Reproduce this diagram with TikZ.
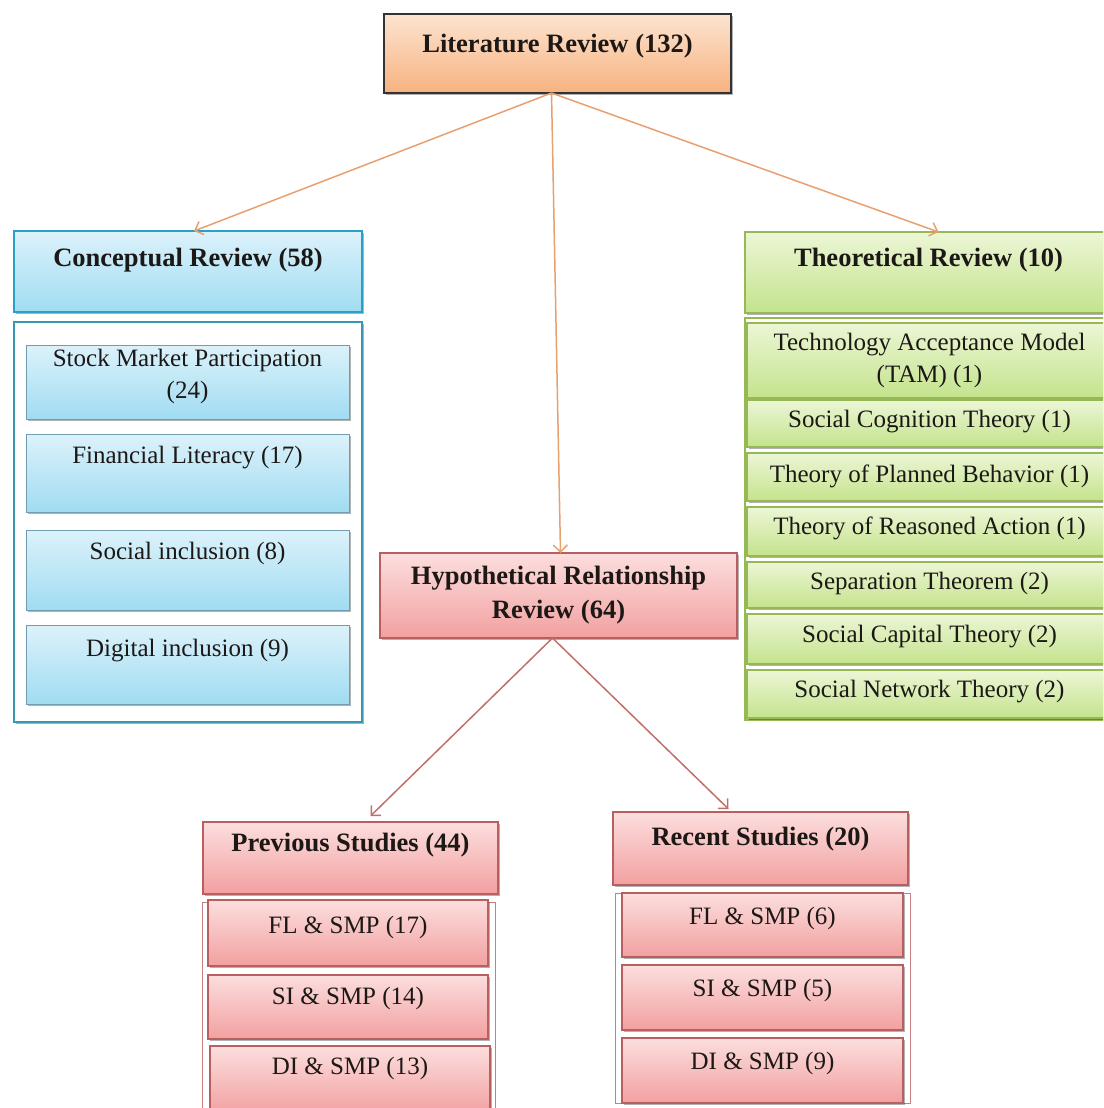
\documentclass[tikz,border=0pt]{standalone}
\usepackage{fontspec}
\setmainfont{Liberation Serif}
\usetikzlibrary{arrows.meta,shadows,calc}

\definecolor{orT}{RGB}{253,228,208}
\definecolor{orB}{RGB}{246,178,128}
\definecolor{blT}{RGB}{220,242,251}
\definecolor{blB}{RGB}{160,220,242}
\definecolor{grT}{RGB}{236,246,214}
\definecolor{grB}{RGB}{196,227,140}
\definecolor{pkT}{RGB}{252,222,222}
\definecolor{pkB}{RGB}{242,160,160}
\definecolor{blLine}{RGB}{42,160,198}
\definecolor{blLine2}{RGB}{55,150,176}
\definecolor{blSub}{RGB}{112,158,176}
\definecolor{grLine}{RGB}{150,185,85}
\definecolor{pkLine}{RGB}{184,96,96}
\definecolor{arrA}{RGB}{232,160,112}
\definecolor{arrB}{RGB}{192,112,106}
\definecolor{ink}{RGB}{28,24,22}

\tikzset{
  box/.style={rectangle, inner sep=0pt, outer sep=0pt,
    drop shadow={shadow xshift=1.5pt, shadow yshift=-2pt, opacity=0.3, fill=black}},
  litbox/.style={box, draw=black!80, line width=1.5pt, top color=orT, bottom color=orB},
  bluehead/.style={box, draw=blLine, line width=2.5pt, top color=blT, bottom color=blB},
  bluecont/.style={box, draw=blLine2, line width=2pt, fill=white},
  bluesub/.style={box, draw=blSub, line width=1pt, top color=blT, bottom color=blB},
  greenhead/.style={box, draw=grLine, line width=1.5pt, top color=grT, bottom color=grB},
  greencont/.style={rectangle, inner sep=0pt, draw=grLine, line width=1.5pt, fill=white},
  greensub/.style={box, draw=grLine, line width=1.2pt, top color=grT, bottom color=grB},
  pinkhead/.style={box, draw=pkLine, line width=1.2pt, top color=pkT, bottom color=pkB},
  pinkcont/.style={rectangle, inner sep=0pt, draw=pkLine!80, line width=1pt, fill=white},
  pinksub/.style={box, draw=pkLine, line width=1.2pt, top color=pkT, bottom color=pkB},
  txt/.style={font=\fontsize{25}{32}\selectfont, text=ink, align=center, inner sep=0pt},
  btxt/.style={txt, font=\bfseries\fontsize{26.5}{34}\selectfont},
  arrowA/.style={draw=arrA, line width=1.5pt, -{Straight Barb[length=7pt,width=14pt]}},
  arrowB/.style={draw=arrB, line width=1.5pt, -{Straight Barb[length=7pt,width=14pt]}}
}

\newcommand\rbox[6]{%
  \node[#1, minimum width={(#5)-(#3)}, minimum height={(#6)-(#4)}] (#2) at ({((#3)+(#5))/2},{((#4)+(#6))/2}) {};}

\begin{document}
\begin{tikzpicture}[x=1pt,y=-1pt]
\clip (0,0) rectangle (1103,1108);
\fill[white] (0,0) rectangle (1103,1108);

% Literature review
\rbox{litbox}{lit}{384}{14}{731}{93}
\node[btxt] (lit-t) at ($(lit)+(0,-7)$) {Literature Review (132)};

% Conceptual review
\rbox{bluehead}{cr}{14}{231}{362}{312}
\node[btxt] (cr-t) at ($(cr)+(0,-11)$) {Conceptual Review (58)};
\rbox{bluecont}{crc}{14}{322}{362}{722}
\rbox{bluesub}{smp}{26}{345}{349}{419}
\node[txt] (smp-t) at ($(smp)+(0,-6)$) {Stock Market Participation\\(24)};
\rbox{bluesub}{fl}{26}{434}{349}{512}
\node[txt] (fl-t) at ($(fl)+(0,-15)$) {Financial Literacy (17)};
\rbox{bluesub}{si}{26}{530}{349}{610}
\node[txt] (si-t) at ($(si)+(0,-17)$) {Social inclusion (8)};
\rbox{bluesub}{di}{26}{625}{349}{704}
\node[txt] (di-t) at ($(di)+(0,-14)$) {Digital inclusion (9)};

% Theoretical review
\rbox{greenhead}{th}{745}{232}{1112}{313}
\node[btxt] (th-t) at ($(th)+(0,-12)$) {Theoretical Review (10)};
\rbox{greencont}{thc}{745}{318}{1112}{720}
\rbox{greensub}{tam}{747}{323}{1112}{398}
\node[txt] (tam-t) at ($(tam)+(0,0)$) {Technology Acceptance Model\\(TAM) (1)};
\rbox{greensub}{sct}{747}{400}{1112}{447}
\node[txt] (sct-t) at ($(sct)+(0,-2)$) {Social Cognition Theory (1)};
\rbox{greensub}{tpb}{747}{453}{1112}{501}
\node[txt] (tpb-t) at ($(tpb)+(0,-1)$) {Theory of Planned Behavior (1)};
\rbox{greensub}{tra}{747}{507}{1112}{556}
\node[txt] (tra-t) at ($(tra)+(0,-3)$) {Theory of Reasoned Action (1)};
\rbox{greensub}{sep}{747}{562}{1112}{608}
\node[txt] (sep-t) at ($(sep)+(0,-2)$) {Separation Theorem (2)};
\rbox{greensub}{scap}{747}{614}{1112}{664}
\node[txt] (scap-t) at ($(scap)+(0,-2)$) {Social Capital Theory (2)};
\rbox{greensub}{snt}{747}{670}{1112}{718}
\node[txt] (snt-t) at ($(snt)+(0,-2)$) {Social Network Theory (2)};

% Hypothetical relationship review
\rbox{pinkhead}{hyp}{380}{553}{737}{638}
\node[btxt] (hyp-t) at ($(hyp)+(0,0)$) {Hypothetical Relationship\\Review (64)};

% Previous studies
\rbox{pinkhead}{prev}{203}{822}{498}{894}
\node[btxt] (prev-t) at ($(prev)+(0,-13)$) {Previous Studies (44)};
\rbox{pinkcont}{prevc}{202}{902}{495}{1120}
\rbox{pinksub}{p1}{208}{900}{488}{966}
\node[txt] (p1-t) at ($(p1)+(0,-6)$) {FL \& SMP (17)};
\rbox{pinksub}{p2}{208}{975}{488}{1039}
\node[txt] (p2-t) at ($(p2)+(0,-9)$) {SI \& SMP (14)};
\rbox{pinksub}{p3}{210}{1046}{490}{1114}
\node[txt] (p3-t) at ($(p3)+(0,-12)$) {DI \& SMP (13)};

% Recent studies
\rbox{pinkhead}{rec}{613}{812}{908}{885}
\node[btxt] (rec-t) at ($(rec)+(0,-9)$) {Recent Studies (20)};
\rbox{pinkcont}{recc}{615}{893}{910}{1103}
\rbox{pinksub}{r1}{622}{893}{903}{957}
\node[txt] (r1-t) at ($(r1)+(0,-7)$) {FL \& SMP (6)};
\rbox{pinksub}{r2}{622}{965}{903}{1030}
\node[txt] (r2-t) at ($(r2)+(0,-7)$) {SI \& SMP (5)};
\rbox{pinksub}{r3}{622}{1038}{903}{1103}
\node[txt] (r3-t) at ($(r3)+(0,-7)$) {DI \& SMP (9)};

% Connectors
\draw[arrowA] ($(lit.south)+(-6,0)$) -- ($(cr.north)+(6,0)$);
\draw[arrowA] ($(lit.south)+(-6,0)$) -- ($(hyp.north)+(2,0)$);
\draw[arrowA] ($(lit.south)+(-6,0)$) -- ($(th.north)+(10,0)$);
\draw[arrowB] ($(hyp.south)+(-6,0)$) -- ($(prev.north)+(20,-6)$);
\draw[arrowB] ($(hyp.south)+(-6,0)$) -- ($(rec.north)+(-32,-3)$);
\end{tikzpicture}
\end{document}
